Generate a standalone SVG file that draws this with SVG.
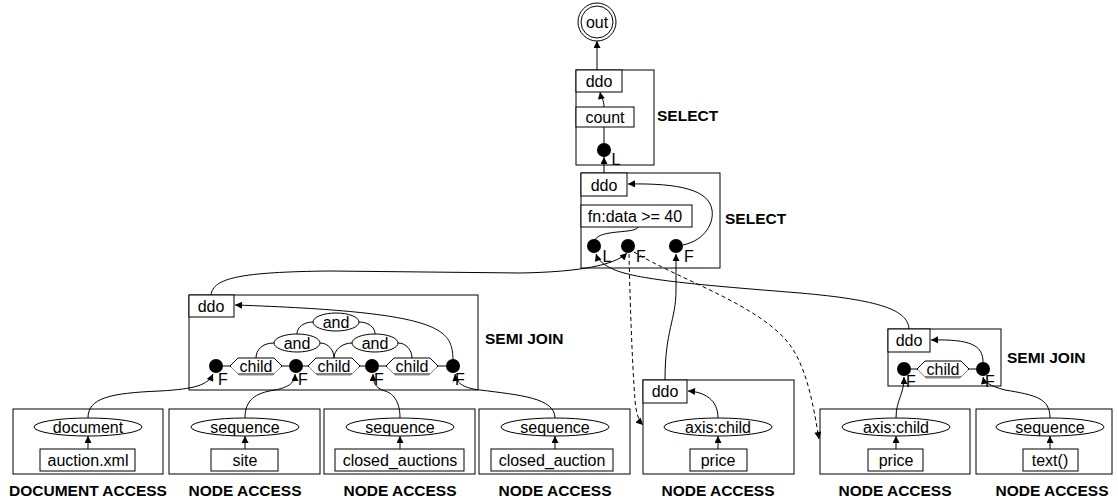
<svg xmlns="http://www.w3.org/2000/svg" width="1118" height="499" viewBox="0 0 1118 499">
<defs>
<marker id="arr" viewBox="0 0 10 10" refX="10" refY="5" markerWidth="8" markerHeight="7" markerUnits="userSpaceOnUse" orient="auto">
<path d="M0,0 L10,5 L0,10 z" fill="#000"/>
</marker>
<style>
rect,ellipse,circle.o{fill:#fff;stroke:#000;stroke-width:1}
.dot{fill:#000;stroke:none}
.hex{fill:#fff;stroke:#000;stroke-width:1}
.hs{fill:none;stroke:#888;stroke-width:1}
.e{fill:none;stroke:#000;stroke-width:1}
.a{fill:none;stroke:#000;stroke-width:1;marker-end:url(#arr)}
.d{stroke-dasharray:4 3}
text{font-family:"Liberation Sans",Arial,sans-serif;font-size:16px;text-anchor:middle;dominant-baseline:central;fill:#000}
text.b{font-weight:bold;font-size:15.5px}
text.s{text-anchor:start}
</style>
</defs>

<g id="out">
<circle class="o" cx="597" cy="22" r="19"/>
<circle class="o" cx="597" cy="22" r="16"/>
<text x="597" y="22">out</text>
</g>

<g id="select1">
<rect x="576" y="70" width="78" height="95"/>
<rect x="576" y="70" width="46" height="22"/>
<text x="599" y="81">ddo</text>
<rect x="576" y="107" width="58" height="20"/>
<text x="605" y="117">count</text>
<path class="e" d="M604,127 L604,143"/>
<circle class="dot" cx="604" cy="150" r="7"/>
<text x="616" y="159">L</text>
<path class="a" d="M604,107 C604,100 601,97 600,92"/>
<text class="b s" x="657" y="115">SELECT</text>
</g>

<g id="select2">
<rect x="581" y="173" width="139" height="95"/>
<rect x="581" y="173" width="46" height="23"/>
<text x="604" y="185">ddo</text>
<rect x="581" y="205" width="111" height="22"/>
<text x="635" y="216">fn:data &gt;= 40</text>
<path class="e" d="M638,227 C636,234 600,229 595,240"/>
<circle class="dot" cx="594" cy="246" r="7"/>
<circle class="dot" cx="628" cy="246" r="7"/>
<circle class="dot" cx="676" cy="246" r="7"/>
<text x="607" y="256">L</text>
<text x="641" y="256">F</text>
<text x="689" y="256">F</text>
<path class="a" d="M683,245 C706,240 714,222 712,210 C709,190 680,183 628,184"/>
<text class="b s" x="725" y="218">SELECT</text>
</g>

<g id="semijoin1">
<rect x="189" y="295" width="289" height="95"/>
<rect x="189" y="295" width="45" height="22"/>
<text x="211" y="306">ddo</text>
<path class="e" d="M313,322 C304,322 297,327 297,334"/>
<path class="e" d="M359,322 C368,322 375,327 375,334"/>
<path class="e" d="M274,343 C262,343 256,350 256,358"/>
<path class="e" d="M320,343 C328,343 334,350 334,358"/>
<path class="e" d="M352,343 C342,343 334,350 334,358"/>
<path class="e" d="M398,343 C406,343 412,350 412,358"/>
<ellipse cx="336" cy="322" rx="23" ry="9"/>
<text x="336" y="322">and</text>
<ellipse cx="297" cy="343" rx="23" ry="9"/>
<text x="297" y="343">and</text>
<ellipse cx="375" cy="343" rx="23" ry="9"/>
<text x="375" y="343">and</text>
<path class="e" d="M223,366 L230,366 M282,366 L289,366 M303,366 L308,366 M360,366 L365,366 M379,366 L386,366 M438,366 L446,366"/>
<polygon class="hex" points="230,366 238,358 274,358 282,366 274,374 238,374"/>
<polyline class="hs" points="231,367 239,375 273,375 281,367"/>
<text x="256" y="366">child</text>
<polygon class="hex" points="308,366 316,358 352,358 360,366 352,374 316,374"/>
<polyline class="hs" points="309,367 317,375 351,375 359,367"/>
<text x="334" y="366">child</text>
<polygon class="hex" points="386,366 394,358 430,358 438,366 430,374 394,374"/>
<polyline class="hs" points="387,367 395,375 429,375 437,367"/>
<text x="412" y="366">child</text>
<circle class="dot" cx="216" cy="366" r="7"/>
<circle class="dot" cx="296" cy="366" r="7"/>
<circle class="dot" cx="372" cy="366" r="7"/>
<circle class="dot" cx="453" cy="366" r="7"/>
<text x="223" y="379">F</text>
<text x="303" y="379">F</text>
<text x="379" y="379">F</text>
<text x="460" y="379">F</text>
<path class="a" d="M453,359 C452,328 440,312 235,305"/>
<text class="b s" x="485" y="338">SEMI JOIN</text>
</g>

<g id="semijoin2">
<rect x="888" y="329" width="113" height="57"/>
<rect x="888" y="329" width="42" height="23"/>
<text x="909" y="340">ddo</text>
<path class="e" d="M911,369 L917,369 M969,369 L976,369"/>
<polygon class="hex" points="917,369 925,361 961,361 969,369 961,377 925,377"/>
<polyline class="hs" points="918,370 926,378 960,378 968,370"/>
<text x="943" y="369">child</text>
<circle class="dot" cx="904" cy="369" r="7"/>
<circle class="dot" cx="983" cy="369" r="7"/>
<text x="911" y="381">F</text>
<text x="990" y="381">F</text>
<path class="a" d="M983,362 C983,345 970,339 931,340"/>
<text class="b s" x="1007" y="357">SEMI JOIN</text>
</g>

<g id="access1">
<rect x="13" y="409" width="150" height="65"/>
<ellipse cx="88" cy="427" rx="54" ry="9"/>
<text x="88" y="427">document</text>
<rect x="40" y="449" width="95" height="22"/>
<text x="88" y="460">auction.xml</text>
<path class="a" d="M88,449 L88,436"/>
<text class="b" x="88" y="490">DOCUMENT ACCESS</text>
</g>

<g id="access2">
<rect x="169" y="409" width="151" height="65"/>
<ellipse cx="245" cy="427" rx="54" ry="9"/>
<text x="245" y="427">sequence</text>
<rect x="211" y="449" width="67" height="22"/>
<text x="245" y="460">site</text>
<path class="a" d="M245,449 L245,436"/>
<text class="b" x="245" y="490">NODE ACCESS</text>
</g>

<g id="access3">
<rect x="324" y="409" width="151" height="65"/>
<ellipse cx="400" cy="427" rx="54" ry="9"/>
<text x="400" y="427">sequence</text>
<rect x="335" y="449" width="129" height="22"/>
<text x="400" y="460">closed_auctions</text>
<path class="a" d="M400,449 L400,436"/>
<text class="b" x="400" y="490">NODE ACCESS</text>
</g>

<g id="access4">
<rect x="479" y="409" width="151" height="65"/>
<ellipse cx="555" cy="427" rx="54" ry="9"/>
<text x="555" y="427">sequence</text>
<rect x="491" y="449" width="122" height="22"/>
<text x="552" y="460">closed_auction</text>
<path class="a" d="M555,449 L555,436"/>
<text class="b" x="555" y="490">NODE ACCESS</text>
</g>

<g id="access5">
<rect x="643" y="380" width="151" height="94"/>
<rect x="643" y="380" width="44" height="23"/>
<text x="665" y="391">ddo</text>
<ellipse cx="718" cy="427" rx="54" ry="9"/>
<text x="718" y="427">axis:child</text>
<rect x="690" y="449" width="57" height="22"/>
<text x="718" y="460">price</text>
<path class="a" d="M718,449 L718,436"/>
<path class="a" d="M718,418 C718,400 705,392 688,391"/>
<text class="b" x="718" y="490">NODE ACCESS</text>
</g>

<g id="access6">
<rect x="820" y="409" width="150" height="65"/>
<ellipse cx="896" cy="427" rx="54" ry="9"/>
<text x="896" y="427">axis:child</text>
<rect x="868" y="449" width="55" height="22"/>
<text x="896" y="460">price</text>
<path class="a" d="M896,449 L896,436"/>
<text class="b" x="895" y="490">NODE ACCESS</text>
</g>

<g id="access7">
<rect x="976" y="409" width="136" height="65"/>
<ellipse cx="1050" cy="427" rx="54" ry="9"/>
<text x="1050" y="427">sequence</text>
<rect x="1023" y="449" width="55" height="22"/>
<text x="1050" y="460">text()</text>
<path class="a" d="M1050,449 L1050,436"/>
<text class="b" x="1052" y="490">NODE ACCESS</text>
</g>

<g id="connectors">
<path class="a" d="M597,70 L597,41"/>
<path class="a" d="M604,173 L604,157"/>
<path class="a" d="M211,295 C213,278 240,272 330,271 L520,273 C580,272 615,265 627,253"/>
<path class="a" d="M909,329 C908,310 880,300 800,293 C700,285 640,280 615,270 C603,265 598,260 596,254"/>
<path class="a" d="M665,380 C665,330 676,320 676,290 L676,254"/>
<path class="a d" d="M629,254 C630,300 632,360 635,400 C636,412 638,420 643,425"/>
<path class="a d" d="M634,252 C680,280 760,305 790,345 C808,370 814,410 819,439"/>
<path class="a" d="M88,418 C88,398 110,393 160,391 C195,389 208,385 213,374"/>
<path class="a" d="M245,418 C245,400 255,393 275,390 C290,387 295,382 295,374"/>
<path class="a" d="M400,418 C400,400 392,393 385,391 C375,388 373,382 373,374"/>
<path class="a" d="M555,418 C555,398 520,395 480,390 C462,388 456,382 455,374"/>
<path class="a" d="M896,418 C896,400 904,395 904,377"/>
<path class="a" d="M1050,418 C1050,398 1035,395 1005,390 C990,386 984,382 983,377"/>
</g>
</svg>
